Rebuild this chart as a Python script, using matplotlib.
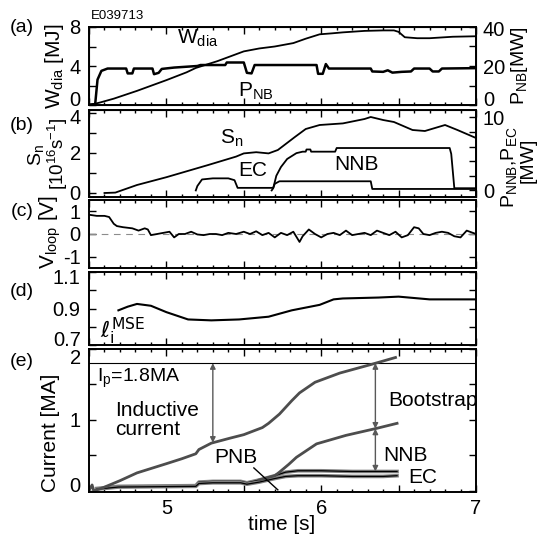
import numpy as np
import matplotlib
matplotlib.use("Agg")
import matplotlib.pyplot as plt
import matplotlib.transforms as mtransforms
from matplotlib.ticker import MultipleLocator, FuncFormatter

plt.rcParams["font.family"] = ["Liberation Sans", "DejaVu Sans"]
plt.rcParams["font.size"] = 15
plt.rcParams["xtick.labelsize"] = 14.5
plt.rcParams["ytick.labelsize"] = 14.5
plt.rcParams["mathtext.fontset"] = "custom"
plt.rcParams["mathtext.rm"] = "Liberation Sans"
plt.rcParams["mathtext.it"] = "Liberation Sans:italic"
plt.rcParams["mathtext.bf"] = "Liberation Sans:bold"

# ── data ─────────────────────────────────────────────────────────────────────

# (a) stored energy [MJ] and PNB power [MW]
t_wdia = [4.50, 4.53, 4.57, 4.66, 4.81, 5.00, 5.13, 5.19, 5.33, 5.50, 5.60, 5.70,
          5.82, 5.90, 5.99, 6.07, 6.14, 6.28, 6.40, 6.47, 6.50, 6.54, 6.62, 6.70,
          6.85, 7.00]
w_dia = [0.05, 0.10, 0.25, 0.65, 1.45, 2.55, 3.35, 3.80, 4.50, 5.50, 5.80, 6.00,
         6.35, 6.80, 7.25, 7.35, 7.45, 7.60, 7.65, 7.65, 7.50, 6.95, 6.85, 6.85,
         7.00, 7.05]

t_pnb = [4.50, 4.54, 4.555, 4.58, 4.62, 4.74, 4.75, 4.78, 4.79, 4.91,
         4.92, 4.95, 4.97, 5.05, 5.20, 5.22, 5.38, 5.39, 5.50, 5.52,
         5.55, 5.57, 5.97, 5.98, 6.01, 6.03, 6.05, 6.32, 6.33, 6.40,
         6.43, 6.46, 6.52, 6.58, 6.60, 6.70, 6.72, 6.76, 6.78, 7.00]
p_nb = [0.0, 0.5, 13.0, 17.5, 18.7, 18.7, 16.2, 16.2, 18.7, 18.7,
        15.8, 16.5, 18.5, 19.2, 20.0, 20.5, 20.5, 21.8, 21.8, 16.5,
        16.2, 20.5, 20.5, 16.0, 16.0, 21.0, 18.7, 18.7, 17.2, 17.0,
        17.8, 16.6, 17.0, 17.2, 18.7, 18.7, 17.2, 17.2, 18.7, 18.9]

# (b) neutron rate [1e16/s], NNB and EC power [MW]
t_sn = [4.60, 4.67, 4.81, 5.00, 5.27, 5.45, 5.50, 5.58, 5.66, 5.72, 5.83, 5.90,
        5.99, 6.14, 6.28, 6.32, 6.40, 6.47, 6.59, 6.67, 6.80, 6.88, 7.00]
s_n = [0.00, 0.02, 0.40, 0.79, 1.40, 1.82, 1.98, 2.04, 1.98, 2.15, 2.80, 3.20,
       3.40, 3.48, 3.70, 3.80, 3.65, 3.55, 3.15, 3.10, 3.40, 3.15, 2.75]

t_nnb = [5.68, 5.69, 5.71, 5.74, 5.78, 5.84, 5.88, 5.90, 5.905, 5.93, 5.935,
         6.09, 6.10, 6.83, 6.84, 6.86, 7.00]
p_nnb = [0.0, 0.3, 2.0, 3.2, 4.3, 5.1, 5.3, 5.3, 5.6, 5.6, 5.3,
         5.3, 5.8, 5.8, 5.0, 0.3, 0.3]

t_ec = [5.19, 5.20, 5.23, 5.30, 5.40, 5.44, 5.46, 5.69, 5.70, 5.73, 6.32, 6.33, 7.00]
p_ec = [0.0, 0.6, 1.5, 1.65, 1.65, 1.4, 0.35, 0.35, 0.9, 1.25, 1.25, 0.2, 0.2]

# (c) loop voltage [V]
t_vloop = [4.50, 4.55, 4.60, 4.63, 4.66, 4.68, 4.72, 4.78, 4.82, 4.86, 4.88, 4.90,
           4.94, 4.98, 5.02, 5.05, 5.08, 5.12, 5.16, 5.20, 5.24, 5.28, 5.32, 5.36,
           5.40, 5.45, 5.50, 5.54, 5.58, 5.62, 5.66, 5.70, 5.74, 5.78, 5.82, 5.86,
           5.88, 5.92, 5.96, 6.00, 6.04, 6.08, 6.12, 6.16, 6.20, 6.24, 6.28, 6.32,
           6.36, 6.40, 6.44, 6.48, 6.52, 6.56, 6.60, 6.63, 6.66, 6.70, 6.74, 6.78,
           6.82, 6.86, 6.90, 6.94, 6.98, 7.00]
v_loop = [0.85, 0.80, 0.80, 0.75, 0.45, 0.35, 0.30, 0.25, 0.15, 0.25, 0.20, -0.05,
          0.00, 0.05, 0.10, -0.15, 0.00, 0.00, 0.10, -0.02, -0.05, 0.00, 0.00, -0.05,
          0.05, 0.00, 0.10, 0.00, 0.12, -0.05, 0.05, -0.15, 0.05, -0.05, 0.10, -0.35,
          -0.10, 0.20, 0.00, -0.15, 0.00, 0.05, -0.05, 0.15, -0.05, 0.00, 0.05, -0.05,
          0.15, 0.05, -0.05, 0.10, -0.15, -0.05, 0.30, 0.25, 0.00, -0.05, 0.05, 0.10,
          0.05, -0.10, -0.15, 0.15, 0.05, 0.00]

# (d) internal inductance
t_li = [4.69, 4.75, 4.81, 4.90, 5.00, 5.14, 5.29, 5.47, 5.66, 5.81, 5.99, 6.08,
        6.14, 6.37, 6.50, 6.70, 7.00]
l_i = [0.89, 0.91, 0.925, 0.915, 0.88, 0.84, 0.835, 0.84, 0.855, 0.89, 0.92, 0.95,
       0.955, 0.96, 0.965, 0.95, 0.95]

# (e) current components [MA]
t_total = [4.50, 4.52, 4.53, 4.55, 4.59, 4.70, 4.81, 5.00, 5.10, 5.19, 5.21, 5.29,
           5.41, 5.50, 5.62, 5.66, 5.73, 5.81, 5.86, 5.96, 6.12, 6.32, 6.48]
i_total = [0.00, 0.08, 0.00, 0.01, 0.04, 0.14, 0.25, 0.38, 0.45, 0.52, 0.58, 0.67,
           0.74, 0.79, 0.89, 0.95, 1.08, 1.27, 1.38, 1.53, 1.66, 1.78, 1.88]

t_nnb_cd = [5.60, 5.70, 5.73, 5.79, 5.84, 5.97, 6.16, 6.36, 6.49]
i_nnb_cd = [0.15, 0.21, 0.26, 0.37, 0.47, 0.66, 0.78, 0.88, 0.95]

t_low = [4.55, 4.69, 5.19, 5.21, 5.30, 5.48, 5.52, 5.60, 5.70, 5.77, 5.85, 6.00,
         6.20, 6.40, 6.49]
i_pnb_ec = [0.03, 0.06, 0.07, 0.12, 0.13, 0.13, 0.11, 0.15, 0.21, 0.26, 0.28, 0.28,
            0.27, 0.27, 0.27]
i_pnb = [0.02, 0.05, 0.06, 0.10, 0.11, 0.11, 0.09, 0.12, 0.17, 0.20, 0.21, 0.21,
         0.20, 0.20, 0.21]

IP = 1.8
T_INDUCTIVE = 5.30
T_BOOT = 6.35

# ── layout ───────────────────────────────────────────────────────────────────

FIG_W, FIG_H = 540, 537
X0, X1 = 89, 476


def box(top, bottom):
    return [X0 / FIG_W, 1 - bottom / FIG_H, (X1 - X0) / FIG_W, (bottom - top) / FIG_H]


def only(labels):
    def f(v, pos):
        for l in labels:
            if abs(v - l) < 1e-6:
                return "%g" % l
        return ""
    return FuncFormatter(f)


def style(ax, ylim, yticks, ylabels, right=True):
    ax.set_xlim(4.5, 7.0)
    ax.set_ylim(*ylim)
    ax.xaxis.set_major_locator(MultipleLocator(0.5))
    ax.xaxis.set_minor_locator(MultipleLocator(0.1))
    ax.set_yticks(yticks)
    ax.yaxis.set_major_formatter(only(ylabels))
    ax.tick_params(which="both", direction="in", top=True, right=right, width=1.0)
    ax.tick_params(which="major", length=5, pad=6)
    ax.tick_params(which="minor", length=2.5)
    ax.tick_params(axis="x", labelbottom=False)
    for s in ax.spines.values():
        s.set_linewidth(1.4)


def style_twin(ax, ylim, yticks, ylabels):
    ax.set_ylim(*ylim)
    ax.set_yticks(yticks)
    ax.yaxis.set_major_formatter(only(ylabels))
    ax.tick_params(direction="in", length=5, width=1.0, pad=5)


def nudge(ax, value, dy_px, side=1):
    # shift one y tick label vertically (pixels, + is up)
    locs = ax.yaxis.get_majorticklocs()
    ticks = ax.yaxis.get_major_ticks(len(locs))
    for loc, tick in zip(locs, ticks):
        if abs(loc - value) < 1e-6:
            lab = tick.label1 if side == 1 else tick.label2
            off = mtransforms.ScaledTranslation(0, dy_px / 100, fig.dpi_scale_trans)
            lab.set_transform(lab.get_transform() + off)


fig = plt.figure(figsize=(5.4, 5.37), dpi=100)
ax_a = fig.add_axes(box(27, 105))
ax_b = fig.add_axes(box(110, 197))
ax_c = fig.add_axes(box(200, 268))
ax_d = fig.add_axes(box(272, 345))
ax_e = fig.add_axes(box(349, 492))

LW = 1.3

# ── (a) ──────────────────────────────────────────────────────────────────────
style(ax_a, (0, 8), [0, 2, 4, 6, 8], [0, 4, 8], right=False)
ax_a.plot(t_wdia, w_dia, color="black", lw=LW)
ax_a2 = ax_a.twinx()
style_twin(ax_a2, (0, 40), [0, 10, 20, 30, 40], [0, 20, 40])
ax_a2.plot(t_pnb, p_nb, color="black", lw=1.8)
ax_a.text(5.2, 6.8, r"W$_\mathregular{dia}$", ha="center", va="center")
ax_a.text(5.58, 1.4, r"P$_\mathregular{NB}$", ha="center", va="center")
nudge(ax_a, 0, 7)
nudge(ax_a2, 0, 6, side=2)
nudge(ax_a2, 40, -2, side=2)

# ── (b) ──────────────────────────────────────────────────────────────────────
style(ax_b, (-0.2, 4.15), [0, 1, 2, 3, 4], [0, 2, 4], right=False)
ax_b.plot(t_sn, s_n, color="black", lw=LW)
ax_b2 = ax_b.twinx()
style_twin(ax_b2, (-0.9, 11.0), [0, 2, 4, 6, 8, 10], [0, 10])
ax_b2.plot(t_nnb, p_nnb, color="black", lw=LW)
ax_b2.plot(t_ec, p_ec, color="black", lw=LW)
ax_b.text(5.42, 2.75, r"S$\mathregular{_n}$", ha="center", va="center")
ax_b.text(5.56, 1.15, "EC", ha="center", va="center")
ax_b.text(6.23, 1.4, "NNB", ha="center", va="center")
nudge(ax_b, 4, -4)

# ── (c) ──────────────────────────────────────────────────────────────────────
style(ax_c, (-1.5, 1.5), [-1, 0, 1], [-1, 0, 1])
ax_c.axhline(0, color="0.55", lw=0.8, ls=(0, (6, 5)))
ax_c.plot(t_vloop, v_loop, color="black", lw=LW)

# ── (d) ──────────────────────────────────────────────────────────────────────
style(ax_d, (0.7, 1.1), [0.7, 0.8, 0.9, 1.0, 1.1], [0.7, 0.9, 1.1])
ax_d.plot(t_li, l_i, color="black", lw=1.5)
ax_d.text(4.57, 0.735, r"$\ell_\mathrm{i}^\mathrm{MSE}$", ha="left", va="baseline",
          math_fontfamily="dejavusans", fontsize=16)
nudge(ax_d, 0.7, 7)
nudge(ax_d, 1.1, -4)

# ── (e) ──────────────────────────────────────────────────────────────────────
style(ax_e, (-0.02, 1.98), [0, 0.5, 1.0, 1.5, 2.0], [0, 1, 2])
ax_e.tick_params(axis="x", labelbottom=True, pad=5)
ax_e.xaxis.set_major_formatter(only([5, 6, 7]))
ax_e.axhline(IP, color="black", lw=0.8)
nudge(ax_e, 2.0, -8)
nudge(ax_e, 0, 6)

for t, v in [(t_low, i_pnb_ec), (t_low, i_pnb)]:
    ax_e.plot(t, v, color="0.5", lw=2.6)
    ax_e.plot(t, v, color="black", lw=0.9)
ax_e.plot(t_nnb_cd, i_nnb_cd, color="0.3", lw=2.0)
ax_e.plot(t_total, i_total, color="0.3", lw=2.0)

arrow = dict(arrowstyle="<|-|>", color="0.35", lw=1.0, mutation_scale=8,
             shrinkA=0, shrinkB=0)
i_ind = np.interp(T_INDUCTIVE, t_total, i_total)
i_nnb_at = np.interp(T_BOOT, t_nnb_cd, i_nnb_cd)
i_low_at = np.interp(T_BOOT, t_low, i_pnb_ec)
ax_e.annotate("", xy=(T_INDUCTIVE, i_ind), xytext=(T_INDUCTIVE, IP), arrowprops=arrow)
ax_e.annotate("", xy=(T_BOOT, i_nnb_at), xytext=(T_BOOT, IP), arrowprops=arrow)
ax_e.annotate("", xy=(T_BOOT, i_low_at), xytext=(T_BOOT, i_nnb_at), arrowprops=arrow)

ax_e.text(4.55, 1.59, r"I$_\mathregular{p}$=1.8MA", ha="left", va="center", fontsize=14)
ax_e.text(4.67, 1.0, "Inductive\ncurrent", ha="left", va="center", linespacing=1.0)
ax_e.text(6.43, 1.27, "Bootstrap", ha="left", va="center")
ax_e.text(6.40, 0.50, "NNB", ha="left", va="center")
ax_e.text(6.56, 0.18, "EC", ha="left", va="center")
ax_e.text(5.31, 0.47, "PNB", ha="left", va="center")
ax_e.plot([5.565, 5.72], [0.32, 0.01], color="black", lw=1.0)

# ── labels ───────────────────────────────────────────────────────────────────
def ftext(x, y, s, **kw):
    fig.text(x / FIG_W, 1 - y / FIG_H, s, ha="center", va="center", **kw)


ftext(118, 16, "E039713", fontsize=9.5)
for lab, y in [("(a)", 28), ("(b)", 126), ("(c)", 211), ("(d)", 292), ("(e)", 361)]:
    ftext(22, y, lab, fontsize=14)

ftext(54, 66, r"W$_\mathregular{dia}$ [MJ]", rotation=90)
ftext(36, 155, r"S$\mathregular{_n}$", rotation=90, fontsize=14)
ftext(58, 154, r"[10$^\mathregular{16}$s$^\mathregular{-1}$]", rotation=90, fontsize=13.5)
ftext(50, 232, r"V$_\mathregular{loop}$ [V]", rotation=90)
ftext(50, 433, "Current [MA]", rotation=90)
ftext(520, 66, r"P$_\mathregular{NB}$[MW]", rotation=90, fontsize=14)
ftext(509, 167, r"P$_\mathregular{NNB}$,P$_\mathregular{EC}$", rotation=90, fontsize=14)
ftext(528, 160, "[MW]", rotation=90, fontsize=14)
ftext(282, 524, "time [s]")

fig.savefig("out.png", dpi=100)
